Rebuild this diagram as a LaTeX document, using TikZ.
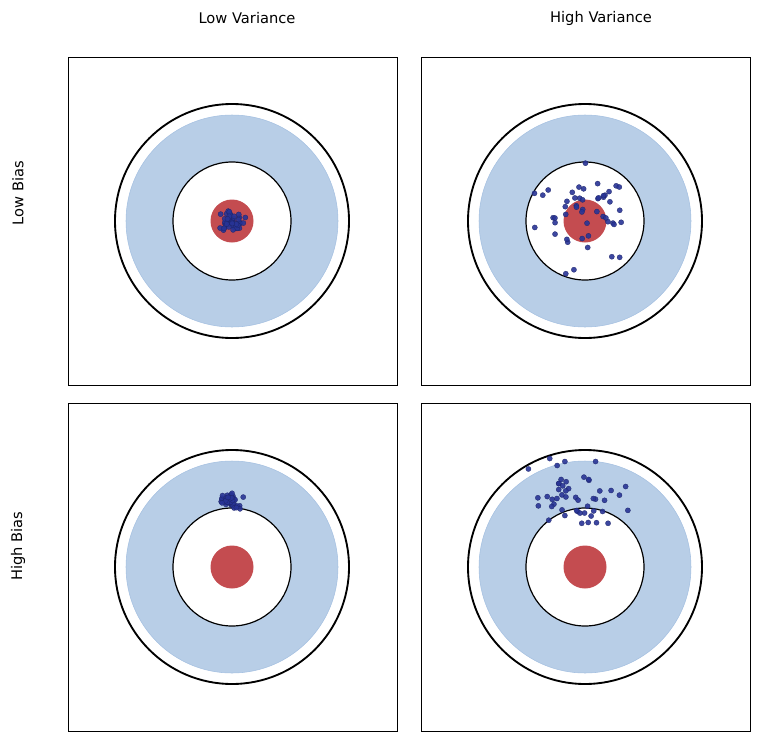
\documentclass[tikz,border=0pt]{standalone}
\usepackage{fontspec}
\setmainfont{DejaVu Sans}
\usetikzlibrary{positioning}
\definecolor{ringblue}{RGB}{184,206,231}
\definecolor{ringedge}{RGB}{165,192,225}
\definecolor{bullred}{RGB}{196,76,80}
\definecolor{shotblue}{RGB}{40,52,150}
\begin{document}
\begin{tikzpicture}[x=0.75pt,y=-0.75pt,
panel/.style={draw=black, line width=0.6pt},
shot/.style={circle, fill=shotblue, draw=shotblue!70!black, line width=0.2pt, fill opacity=0.9},
lab/.style={font=\fontsize{11}{13}\selectfont},
]
\useasboundingbox (0,0) rectangle (761,743);
\pgfmathsetseed{7}

%Headers
\node[lab] (lowvar) at (247,18) {Low Variance};
\node[lab] (highvar) at (601,18) {High Variance};
\node[lab, rotate=90] (lowbias) at (18,193) {Low Bias};
\node[lab, rotate=90] (highbias) at (18,546) {High Bias};

%Targets
\foreach \cx/\cy/\mx/\my/\sx/\sy in {232/221/232/220/9/8, 585/221/580/215/40/38, 232/567/232/500/8/6, 585/567/578/492/38/28}{
  \draw[panel] (\cx-164,\cy-164) rectangle (\cx+165,\cy+164);
  \draw[line width=1.4pt] (\cx,\cy) circle (117);
  \fill[ringblue, draw=ringedge] (\cx,\cy) circle (106);
  \fill[white] (\cx,\cy) circle (59);
  \draw[line width=0.9pt] (\cx,\cy) circle (59);
  \fill[bullred] (\cx,\cy) circle (21.5);
  \foreach \i in {1,...,50}{
    \pgfmathsetmacro\dx{\sx*(rand+rand+rand)/1.6}
    \pgfmathsetmacro\dy{\sy*(rand+rand+rand)/1.6}
    \path[shot] (\mx+\dx,\my+\dy) circle (2.6);
  }
}
\end{tikzpicture}
\end{document}
